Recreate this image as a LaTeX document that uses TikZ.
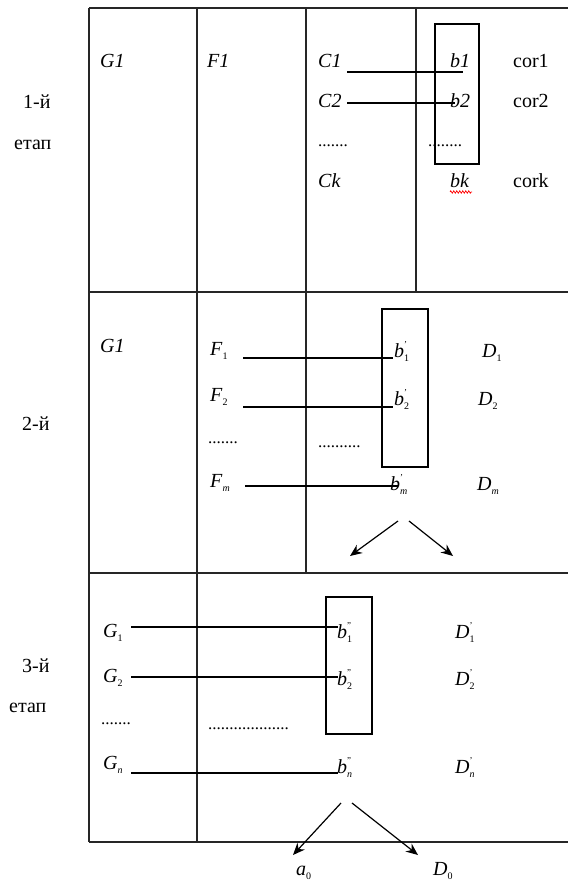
\documentclass[tikz,border=0pt]{standalone}
\usepackage{fontspec}
\setmainfont{Liberation Serif}
\usetikzlibrary{arrows.meta,decorations.pathmorphing}
\newcommand\lab[3]{\textit{#1}\rlap{\raisebox{1.0ex}{\fontsize{9}{9}\selectfont #2}}\raisebox{-0.5ex}{\fontsize{10}{10}\selectfont #3}}
\begin{document}
\begin{tikzpicture}[x=1pt,y=-1pt,
  grid/.style={line width=1.3pt,draw=black!85},
  txt/.style={anchor=base west,inner sep=0pt,font=\fontsize{20}{23}\selectfont},
  itx/.style={txt,font=\fontsize{20}{23}\selectfont\itshape},
  dots/.style={anchor=base west,inner sep=0pt,font=\fontsize{17}{20}\selectfont},
  conn/.style={line width=1.1pt},
  frame/.style={draw,line width=1.1pt},
  arr/.style={line width=1.2pt,-{Stealth[length=12pt,width=10pt]}}]
\useasboundingbox (0,0) rectangle (568,882);
% table grid
\draw[grid] (89,8) -- (568,8);
\draw[grid] (89,292) -- (568,292);
\draw[grid] (89,573) -- (568,573);
\draw[grid] (89,842) -- (568,842);
\draw[grid] (89,8) -- (89,842);
\draw[grid] (197,8) -- (197,842);
\draw[grid] (306,8) -- (306,573);
\draw[grid] (416,8) -- (416,292);
% stage labels
\node[txt] (s1a) at (23,109) {1-й};
\node[txt] (s1b) at (14,150) {етап};
\node[txt] (s2a) at (22,430) {2-й};
\node[txt] (s3a) at (22,672) {3-й};
\node[txt] (s3b) at (9,712) {етап};
% stage 1
\node[itx] (g1a) at (100,68) {G1};
\node[itx] (f1a) at (207,68) {F1};
\node[itx] (c1) at (318,68) {C1};
\node[itx] (c2) at (318,108) {C2};
\node[itx] (ck) at (318,188) {Ck};
\node[itx] (b1) at (450,68) {b1};
\node[itx] (b2) at (450,108) {b2};
\node[itx] (bk) at (450,188) {bk};
\node[txt] (cor1) at (513,68) {cor1};
\node[txt] (cor2) at (513,108) {cor2};
\node[txt] (cork) at (513,188) {cork};
\node[dots] (d1a) at (318,147) {.......};
\node[dots] (d1b) at (428,147) {........};
\draw[red,line width=0.7pt,decorate,decoration={zigzag,segment length=3pt,amplitude=1.2pt}] (450,192) -- (472,192);
\node[frame,minimum width=44pt,minimum height=140pt,inner sep=0pt] (box1) at (457,94) {};
\coordinate (c1s) at (347,72); \coordinate (c1e) at (463,72);
\coordinate (c2s) at (347,103); \coordinate (c2e) at (455,103);
\draw[conn] (c1s) -- (c1e);
\draw[conn] (c2s) -- (c2e);
% stage 2
\node[itx] (g1b) at (100,352) {G1};
\node[txt] (f1) at (210,355) {\lab{F}{}{1}};
\node[txt] (f2) at (210,401) {\lab{F}{}{2}};
\node[txt] (fm) at (210,487) {\lab{F}{}{\textit{m}}};
\node[dots] (d2a) at (208,443) {.......};
\node[dots] (d2b) at (318,447) {..........};
\node[frame,minimum width=46pt,minimum height=158pt,inner sep=0pt] (box2) at (405,388) {};
\node[txt] (bp1) at (394,357) {\lab{b}{'}{1}};
\node[txt] (bp2) at (394,405) {\lab{b}{'}{2}};
\node[txt] (bpm) at (390,490) {\lab{b}{'}{\textit{m}}};
\node[txt] (dd1) at (482,357) {\lab{D}{}{1}};
\node[txt] (dd2) at (478,405) {\lab{D}{}{2}};
\node[txt] (ddm) at (477,490) {\lab{D}{}{\textit{m}}};
\coordinate (f1s) at (243,358); \coordinate (f1e) at (393,358);
\coordinate (f2s) at (243,407); \coordinate (f2e) at (393,407);
\coordinate (fms) at (245,486); \coordinate (fme) at (398,486);
\draw[conn] (f1s) -- (f1e);
\draw[conn] (f2s) -- (f2e);
\draw[conn] (fms) -- (fme);
\coordinate (a2l) at (398,521); \coordinate (a2lt) at (350,556);
\coordinate (a2r) at (409,521); \coordinate (a2rt) at (453,556);
\draw[arr] (a2l) -- (a2lt);
\draw[arr] (a2r) -- (a2rt);
% stage 3
\node[txt] (g31) at (103,637) {\lab{G}{}{1}};
\node[txt] (g32) at (103,682) {\lab{G}{}{2}};
\node[txt] (g3n) at (103,769) {\lab{G}{}{\textit{n}}};
\node[dots] (d3a) at (101,724) {.......};
\node[dots] (d3b) at (208,729) {...................};
\node[frame,minimum width=46pt,minimum height=137pt,inner sep=0pt] (box3) at (349,665.5) {};
\node[txt] (bb1) at (337,638) {\lab{b}{''}{1}};
\node[txt] (bb2) at (337,685) {\lab{b}{''}{2}};
\node[txt] (bbn) at (337,773) {\lab{b}{''}{\textit{n}}};
\node[txt] (dp1) at (455,638) {\lab{D}{'}{1}};
\node[txt] (dp2) at (455,685) {\lab{D}{'}{2}};
\node[txt] (dpn) at (455,773) {\lab{D}{'}{\textit{n}}};
\coordinate (g1s) at (131,627); \coordinate (g1e) at (338,627);
\coordinate (g2s) at (131,677); \coordinate (g2e) at (338,677);
\coordinate (gns) at (131,773); \coordinate (gne) at (338,773);
\draw[conn] (g1s) -- (g1e);
\draw[conn] (g2s) -- (g2e);
\draw[conn] (gns) -- (gne);
\coordinate (a3l) at (341,803); \coordinate (a3lt) at (293,855);
\coordinate (a3r) at (352,803); \coordinate (a3rt) at (418,855);
\draw[arr] (a3l) -- (a3lt);
\draw[arr] (a3r) -- (a3rt);
\node[txt] (a0) at (296,875) {\lab{a}{}{0}};
\node[txt] (d0) at (433,875) {\lab{D}{}{0}};
\end{tikzpicture}
\end{document}
